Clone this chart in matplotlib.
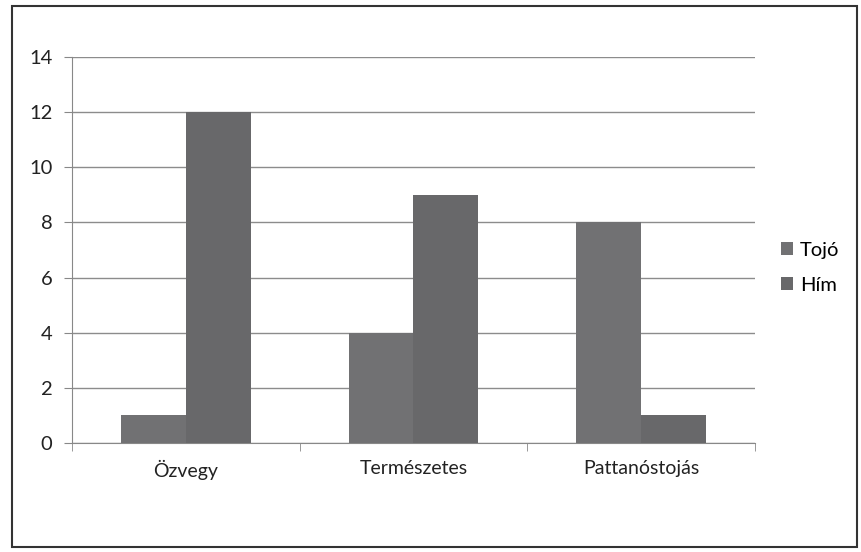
import matplotlib.pyplot as plt
import numpy as np
from matplotlib.patches import Rectangle

plt.rcParams['font.family'] = ['Lato', 'DejaVu Sans']

# Data
categories = ['Özvegy', 'Természetes', 'Pattanóstojás']
tojo = [1, 4, 8]
him = [12, 9, 1]
series_names = ['Tojó', 'Hím']

fig = plt.figure(figsize=(8.62, 5.52), dpi=100)
ax = fig.add_axes([0.0835, 0.1975, 0.7923, 0.699])

x = np.arange(len(categories))
w = 0.285
ax.bar(x - w / 2, tojo, width=w, color='#717173', label=series_names[0], zorder=3)
ax.bar(x + w / 2, him, width=w, color='#68686a', label=series_names[1], zorder=3)

ax.set_xlim(-0.5, len(categories) - 0.5)
ax.set_ylim(0, 14)
ax.set_yticks(range(0, 15, 2))
ax.yaxis.grid(True, color='#8c8c8c', linewidth=1, zorder=0)

# category labels centred, tick marks on the boundaries
ax.set_xticks(x)
ax.set_xticklabels(categories, fontsize=14, color='#222222')
ax.tick_params(axis='x', length=0, pad=12)
ax.set_xticks(np.arange(-0.5, len(categories)), minor=True)
ax.tick_params(axis='x', which='minor', length=6, color='#888888')
ax.tick_params(axis='y', length=6, color='#888888', labelsize=14.5,
               labelcolor='#222222', pad=8)

for side in ['top', 'right']:
    ax.spines[side].set_visible(False)
for side in ['left', 'bottom']:
    ax.spines[side].set_color('#888888')

fig.legend(loc='center left', bbox_to_anchor=(0.885, 0.515), frameon=False,
           fontsize=14.5, handlelength=0.6, handleheight=0.6, handletextpad=0.35,
           labelspacing=0.9)

# outer frame
fig.patches.append(Rectangle((0.014, 0.009), 0.98, 0.98, transform=fig.transFigure,
                             fill=False, edgecolor='#333333', linewidth=1.5))

fig.savefig('out.png', dpi=100)
